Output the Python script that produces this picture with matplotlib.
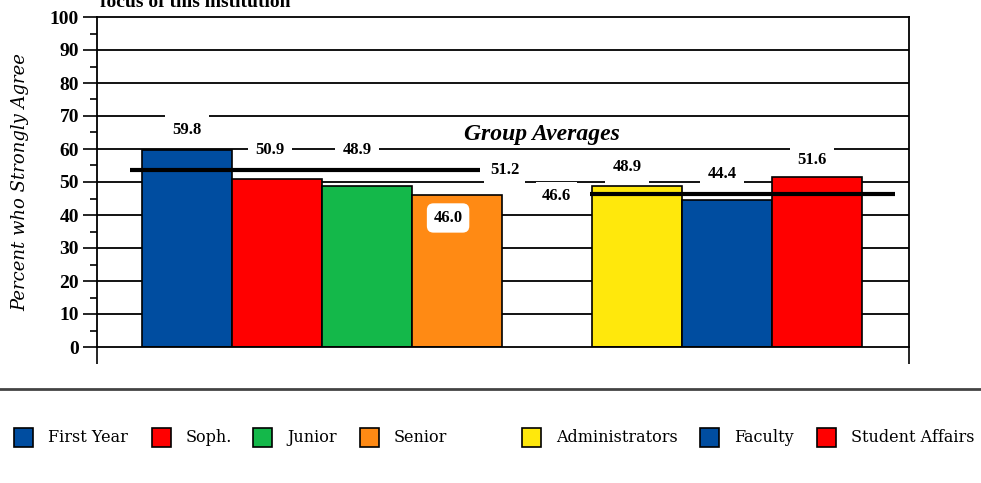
import matplotlib.pyplot as plt
from matplotlib.patches import Rectangle
from matplotlib.lines import Line2D

# data
groups = [["First Year", "Soph.", "Junior", "Senior"],
          ["Administrators", "Faculty", "Student Affairs"]]
values = [[59.8, 50.9, 48.9, 46.0], [48.9, 44.4, 51.6]]
colors = [["#004DA0", "#FF0000", "#14B84A", "#FF8A14"],
          ["#FFE80C", "#004DA0", "#FF0000"]]
avg_labels = ["51.2", "46.6"]
avg_levels = [53.5, 46.4]   # where the average lines sit in the picture

# label placement offsets (dx, dy) relative to each bar
label_offsets = [[(0, 6.0), (-0.08, 8.8), (-0.11, 10.8), (-0.1, -6.9)],
                 [(-0.11, 5.6), (-0.06, 8.0), (-0.06, 5.1)]]
avg_label_pos = [(3.53, 53.6), (4.1, 45.8)]
avg_spans = [(-0.63, 3.26), (4.48, 7.87)]

serif = "Liberation Serif"

fig = plt.figure(figsize=(9.81, 4.83), dpi=100)
ax = fig.add_axes([97 / 981, 1 - 347 / 483, 812 / 981, 330 / 483])

# bar positions: groups separated by one empty slot
positions = []
pos = 0
for g in groups:
    positions.append(list(range(pos, pos + len(g))))
    pos += len(g) + 1

for gi in range(len(groups)):
    ax.bar(positions[gi], values[gi], width=1.0, color=colors[gi],
           edgecolor="black", linewidth=1.2, zorder=2)
    for i, v in enumerate(values[gi]):
        dx, dy = label_offsets[gi][i]
        x = positions[gi][i] + dx
        y = v + dy
        if gi == 0 and i == 3:
            box = dict(boxstyle="round,pad=0.4", fc="white", ec="none")
        else:
            box = dict(boxstyle="square,pad=0.45", fc="white", ec="none")
        ax.text(x, y, f"{v:.1f}", ha="center", va="center", fontsize=12,
                fontweight="bold", family=serif, bbox=box, zorder=4)
    x0, x1 = avg_spans[gi]
    ax.plot([x0, x1], [avg_levels[gi]] * 2, color="black", lw=3, zorder=3,
            solid_capstyle="butt")
    ax.text(*avg_label_pos[gi], avg_labels[gi], ha="center", va="center",
            fontsize=12, fontweight="bold", family=serif,
            bbox=dict(boxstyle="square,pad=0.35", fc="white", ec="none"), zorder=4)

ax.text(3.94, 64.5, "Group Averages", ha="center", va="center", fontsize=17,
        fontweight="bold", style="italic", family=serif, zorder=4)

ax.set_xlim(-1, 8.02)
ax.set_ylim(0, 100)
ax.set_yticks(range(0, 101, 10))
ax.set_yticks(range(5, 100, 10), minor=True)
ax.set_xticks([-1, 8.02])
ax.set_xticklabels([])
for t in ax.get_yticklabels():
    t.set_fontfamily(serif)
    t.set_fontweight("bold")
    t.set_fontsize(14)
ax.tick_params(axis="y", which="major", length=10, width=1.2, direction="out", pad=3)
ax.tick_params(axis="y", which="minor", length=5, width=1.2, direction="out")
ax.tick_params(axis="x", length=12, width=1.2, direction="out")
for y in range(10, 100, 10):
    ax.axhline(y, color="black", lw=1.3, zorder=0)
for s in ax.spines.values():
    s.set_color("black")
    s.set_linewidth(1.3)

ax.set_ylabel("Percent who Strongly Agree", fontsize=13, style="italic",
              family="DejaVu Serif", labelpad=15)

# title, cut off at the top edge as in the source image
fig.text(100 / 981, 1 - 7 / 483, "focus of this institution", fontsize=14,
         fontweight="bold", family=serif, va="baseline", ha="left")

# separator line
fig.add_artist(Line2D([0, 1], [1 - 389 / 483] * 2, color="#444444", lw=2))

# legend
legend_x = [14, 152, 253, 360, 522, 700, 817]
names = groups[0] + groups[1]
cols = colors[0] + colors[1]
ly = 1 - 437 / 483
for x, name, c in zip(legend_x, names, cols):
    fig.add_artist(Rectangle((x / 981, ly - 9.5 / 483), 19 / 981, 19 / 483,
                             facecolor=c, edgecolor="black", lw=1.2,
                             transform=fig.transFigure))
    fig.text((x + 34) / 981, ly, name, fontsize=11.5, family="DejaVu Serif",
             va="center", ha="left")

fig.savefig("out.png", dpi=100)
